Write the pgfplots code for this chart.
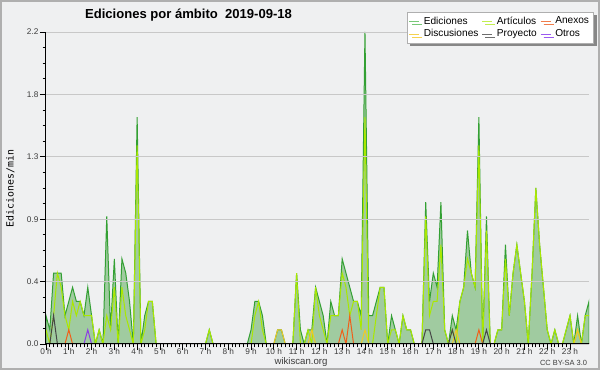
\documentclass[border=0pt]{standalone}
\usepackage{pgfplots}
\pgfplotsset{compat=1.18}
\usepackage{pgfplotstable}
\usepackage{fontspec}
\setmainfont{Liberation Sans}
\newfontfamily\monofont{DejaVu Sans Mono}
\usetikzlibrary{shadows}
\definecolor{bgc}{RGB}{239,240,241}
\definecolor{framec}{RGB}{175,175,175}
\definecolor{edline}{RGB}{51,160,51}
\definecolor{edfill}{RGB}{160,203,160}
\definecolor{artline}{RGB}{170,232,0}
\definecolor{anxline}{RGB}{240,95,25}
\definecolor{discline}{RGB}{240,200,40}
\definecolor{proyline}{RGB}{70,70,70}
\definecolor{otrline}{RGB}{140,60,230}
\definecolor{gridc}{RGB}{200,200,200}
\definecolor{tickc}{RGB}{60,60,60}
\definecolor{shadowc}{RGB}{135,135,135}
\definecolor{legEd}{RGB}{120,200,120}
\definecolor{legArt}{RGB}{195,238,80}
\definecolor{legAnx}{RGB}{240,125,75}
\definecolor{legDisc}{RGB}{245,210,80}
\definecolor{legProy}{RGB}{110,110,110}
\definecolor{legOtr}{RGB}{155,90,240}

\pgfplotstableread{
i ed art anx disc proy otr
0 0.2 0.1 0 0 0 0
1 0.1 0 0 0 0 0
2 0.5 0.2 0 0 0.2 0
3 0.5 0.5 0 0 0 0
4 0.5 0.4 0 0 0 0
5 0.2 0.2 0 0 0 0
6 0.3 0.1 0.1 0 0 0
7 0.4 0.3 0 0 0 0
8 0.3 0.2 0 0 0 0
9 0.3 0.3 0 0 0 0
10 0.2 0.2 0 0 0 0
11 0.4 0.2 0 0 0 0.1
12 0.2 0.2 0 0 0 0
13 0 0 0 0 0 0
14 0.1 0.1 0 0 0 0
15 0 0 0 0 0 0
16 0.9 0.2 0 0 0 0
17 0.1 0.1 0 0 0 0
18 0.6 0.4 0 0 0 0
19 0 0 0 0 0 0
20 0.6 0.4 0 0 0 0
21 0.5 0.2 0 0 0 0
22 0.3 0.1 0 0 0 0
23 0 0 0 0 0 0
24 1.6 1.4 0 0 0 0
25 0 0 0 0 0 0
26 0.2 0.1 0 0 0 0
27 0.3 0.3 0 0 0 0
28 0.3 0.3 0 0 0 0
29 0 0 0 0 0 0
30 0 0 0 0 0 0
31 0 0 0 0 0 0
32 0 0 0 0 0 0
33 0 0 0 0 0 0
34 0 0 0 0 0 0
35 0 0 0 0 0 0
36 0 0 0 0 0 0
37 0 0 0 0 0 0
38 0 0 0 0 0 0
39 0 0 0 0 0 0
40 0 0 0 0 0 0
41 0 0 0 0 0 0
42 0 0 0 0 0 0
43 0.1 0.1 0 0 0 0
44 0 0 0 0 0 0
45 0 0 0 0 0 0
46 0 0 0 0 0 0
47 0 0 0 0 0 0
48 0 0 0 0 0 0
49 0 0 0 0 0 0
50 0 0 0 0 0 0
51 0 0 0 0 0 0
52 0 0 0 0 0 0
53 0 0 0 0 0 0
54 0.1 0 0 0 0 0
55 0.3 0.2 0 0 0 0
56 0.3 0.3 0 0 0 0
57 0.2 0.1 0 0 0 0
58 0 0 0 0 0 0
59 0 0 0 0 0 0
60 0 0 0 0 0 0
61 0.1 0 0 0.1 0 0
62 0.1 0 0 0.1 0 0
63 0 0 0 0 0 0
64 0 0 0 0 0 0
65 0 0 0 0 0 0
66 0.5 0.5 0 0 0 0
67 0.1 0 0 0 0 0
68 0 0 0 0 0 0
69 0.1 0.1 0 0 0 0
70 0.1 0 0 0.1 0 0
71 0.4 0.4 0 0 0 0
72 0.3 0.2 0 0 0 0
73 0.2 0.1 0 0 0 0
74 0 0 0 0 0 0
75 0.3 0.2 0 0 0 0
76 0.2 0.2 0 0 0 0
77 0.2 0.2 0 0 0 0
78 0.6 0.5 0.1 0 0 0
79 0.5 0.4 0 0 0 0
80 0.4 0.2 0.2 0 0 0
81 0.3 0.3 0 0 0 0
82 0.3 0.3 0 0 0 0
83 0.2 0.1 0 0 0 0
84 2.2 1.6 0 0.1 0 0
85 0.2 0 0 0 0 0
86 0.2 0 0 0 0 0
87 0.3 0.2 0 0 0 0
88 0.4 0.4 0 0 0 0
89 0.4 0.4 0 0 0 0
90 0 0 0 0 0 0
91 0.2 0.1 0 0 0 0
92 0.1 0.1 0 0 0 0
93 0 0 0 0 0 0
94 0.2 0.2 0 0 0 0
95 0.1 0.1 0 0 0 0
96 0.1 0.1 0 0 0 0
97 0 0 0 0 0 0
98 0 0 0 0 0 0
99 0 0 0 0 0 0
100 1.0 0.9 0 0 0.1 0
101 0.3 0.2 0 0 0.1 0
102 0.5 0.3 0 0 0 0
103 0.4 0.3 0 0 0 0
104 1.0 0.7 0 0 0 0
105 0.1 0.1 0 0 0 0
106 0 0 0 0 0 0
107 0.2 0.1 0 0 0.1 0
108 0.1 0 0 0.1 0 0
109 0.3 0.3 0 0 0 0
110 0.4 0.4 0 0 0 0
111 0.8 0.6 0 0 0 0
112 0.5 0.5 0 0 0 0
113 0.4 0.4 0 0 0 0
114 1.6 1.4 0.1 0 0 0
115 0 0 0 0 0 0
116 0.9 0.8 0 0 0.1 0
117 0 0 0 0 0 0
118 0 0 0 0 0 0
119 0.1 0.1 0 0 0 0
120 0.1 0.1 0 0 0 0
121 0.7 0.6 0 0 0 0
122 0.2 0.2 0 0 0 0
123 0.5 0.5 0 0 0 0
124 0.7 0.7 0 0 0 0
125 0.5 0.5 0 0 0 0
126 0.3 0.3 0 0 0 0
127 0 0 0 0 0 0
128 0.5 0.5 0 0 0 0
129 1.1 1.1 0 0 0 0
130 0.7 0.7 0 0 0 0
131 0.4 0.4 0 0 0 0
132 0.1 0.1 0 0 0 0
133 0 0 0 0 0 0
134 0.1 0.1 0 0 0 0
135 0 0 0 0 0 0
136 0 0 0 0 0 0
137 0.1 0.1 0 0 0 0
138 0.2 0.2 0 0 0 0
139 0 0 0 0 0 0
140 0.2 0.1 0 0.1 0 0
141 0 0 0 0 0 0
142 0.2 0.2 0 0 0 0
143 0.3 0.2 0 0 0 0
}\datatable

\begin{document}
\begin{tikzpicture}
\fill[bgc] (0pt,0pt) rectangle (450pt,277.5pt);
\draw[framec, line width=1.5pt] (0.75pt,0.75pt) rectangle (449.25pt,276.75pt);
\useasboundingbox (0pt,0pt) rectangle (450pt,277.5pt);
\begin{axis}[
  at={(34.5pt,19.5pt)}, anchor=south west,
  scale only axis, width=407.25pt, height=234pt,
  xmin=0, xmax=143, ymin=0, ymax=2.2,
  axis x line*=bottom, axis y line*=left,
  axis line style={black, line width=0.75pt},
  axis on top,
  tick align=outside,
  major tick length=4.5pt, minor tick length=2.5pt,
  every tick/.style={black, line width=0.6pt},
  ytick={0,0.44,0.88,1.32,1.76,2.2},
  yticklabels={0.0,0.4,0.9,1.3,1.8,2.2},
  minor y tick num=3,
  xtick={0,6,...,138},
  xticklabels={0 h,1 h,2 h,3 h,4 h,5 h,6 h,7 h,8 h,9 h,10 h,11 h,12 h,13 h,14 h,15 h,16 h,17 h,18 h,19 h,20 h,21 h,22 h,23 h},
  minor x tick num=5,
  ymajorgrids, major grid style={gridc, line width=0.6pt},
  ticklabel style={font=\fontsize{6.2}{7}\selectfont, text=tickc},
  yticklabel style={inner sep=1pt},
  xticklabel style={inner sep=0pt, yshift=1.2pt},
  legend columns=3,
  legend cell align=left,
  legend style={at={(1.0092,1.065)}, anchor=north east, draw=framec, fill=white,
    font=\fontsize{7.6}{8.1}\selectfont, inner sep=1.5pt, row sep=-1.5pt,
    drop shadow={shadow xshift=2.25pt, shadow yshift=-2.25pt, fill=shadowc, opacity=1},
    /tikz/every odd column/.append style={column sep=1.2pt},
    /tikz/every even column/.append style={column sep=0.5pt}},
  legend image code/.code={\draw[#1,line width=0.6pt] (0pt,0pt) -- (7.5pt,0pt);},
]
\addlegendimage{legEd}
\addlegendimage{legArt}
\addlegendimage{legAnx}
\addlegendimage{legDisc}
\addlegendimage{legProy}
\addlegendimage{legOtr}
\addplot[draw=edline, fill=edfill, line width=0.75pt, forget plot] table[x=i,y=ed]{\datatable} \closedcycle;
\addplot[artline, line width=0.75pt, forget plot] table[x=i,y=art]{\datatable};
\addplot[anxline, line width=0.75pt, forget plot] table[x=i,y=anx]{\datatable};
\addplot[discline, line width=0.75pt, forget plot] table[x=i,y=disc]{\datatable};
\addplot[proyline, line width=0.75pt, forget plot] table[x=i,y=proy]{\datatable};
\addplot[otrline, line width=0.75pt, forget plot] table[x=i,y=otr]{\datatable};
\legend{Ediciones,Artículos,Anexos,Discusiones,Proyecto,Otros}
\end{axis}
\node[anchor=base, font=\bfseries\fontsize{9.8}{11}\selectfont, text=black] at (141.4pt,263.8pt) {Ediciones por ámbito\ \ 2019-09-18};
\node[rotate=90, font=\monofont\fontsize{7.4}{8}\selectfont, text=black] at (7.8pt,136.1pt) {Ediciones/min};
\node[font=\fontsize{7.2}{8}\selectfont, text=tickc] at (225.75pt,5.8pt) {wikiscan.org};
\node[anchor=east, font=\fontsize{5.6}{6}\selectfont, text=tickc, inner sep=0pt] at (440.5pt,5.6pt) {CC BY-SA 3.0};
\end{tikzpicture}
\end{document}
